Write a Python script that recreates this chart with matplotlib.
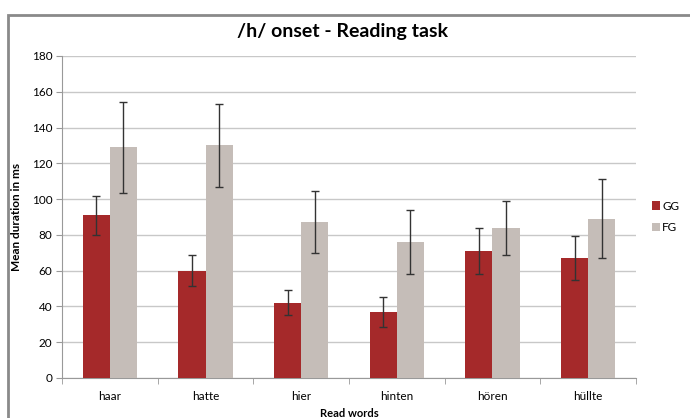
import numpy as np
import matplotlib.pyplot as plt
from matplotlib.patches import Rectangle

# Datos
palabras = ['haar', 'hatte', 'hier', 'hinten', 'hören', 'hüllte']
gg_media = [91, 60, 42, 37, 71, 67]
gg_error = [11, 8.5, 7, 8.5, 13, 12.3]
fg_media = [129, 130, 87, 76, 84, 89]
fg_error = [25.5, 23.3, 17.4, 18, 15.2, 22]

plt.rcParams['font.family'] = ['Lato', 'DejaVu Sans']

fig = plt.figure(figsize=(6.9, 4.18), dpi=100)
# marco gris del grafico
fig.patches.append(Rectangle((8 / 690, -0.1), 1.2, 1 - 15 / 418 + 0.1,
                             transform=fig.transFigure, fill=False,
                             edgecolor='#8a8a8a', linewidth=2))

ax = fig.add_axes([62 / 690, 1 - 378 / 418, (636 - 62) / 690, (378 - 56) / 418])

x = np.arange(len(palabras))
ancho = 0.285
err_kw = dict(ecolor='#333333', elinewidth=1, capsize=3, capthick=1)
ax.bar(x - ancho / 2, gg_media, ancho, yerr=gg_error, color='#a5292a',
       label='GG', error_kw=err_kw, zorder=3)
ax.bar(x + ancho / 2, fg_media, ancho, yerr=fg_error, color='#c5bdb8',
       label='FG', error_kw=err_kw, zorder=3)

ax.set_xlim(-0.5, len(palabras) - 0.5)
ax.set_ylim(0, 180)
ax.set_yticks(range(0, 181, 20))
ax.yaxis.grid(True, color='#c8c8c8', linewidth=1)
ax.set_axisbelow(True)

ax.set_xticks(x)
ax.set_xticklabels(palabras, fontsize=8.5)
ax.set_xticks(np.arange(-0.5, len(palabras)), minor=True)
ax.tick_params(axis='x', which='major', length=0, pad=9)
ax.tick_params(axis='x', which='minor', length=4, color='#999999')
ax.tick_params(axis='y', labelsize=8.5, length=4, color='#999999', pad=3)

for lado in ['top', 'right']:
    ax.spines[lado].set_visible(False)
for lado in ['left', 'bottom']:
    ax.spines[lado].set_color('#999999')

ax.set_ylabel('Mean duration in ms', fontsize=8.5, fontweight='bold', labelpad=7)
ax.set_xlabel('Read words', fontsize=8, fontweight='bold', labelpad=5)
fig.text(0.496, 1 - 32 / 418, '/h/ onset - Reading task', fontsize=14,
         fontweight='bold', ha='center', va='center')

ax.legend(loc='center left', bbox_to_anchor=(1.015, 0.5), frameon=False,
          fontsize=8.5, handlelength=0.7, handleheight=0.7, handletextpad=0.2,
          labelspacing=0.9, borderaxespad=0.2)

fig.savefig('out.png', dpi=100)
